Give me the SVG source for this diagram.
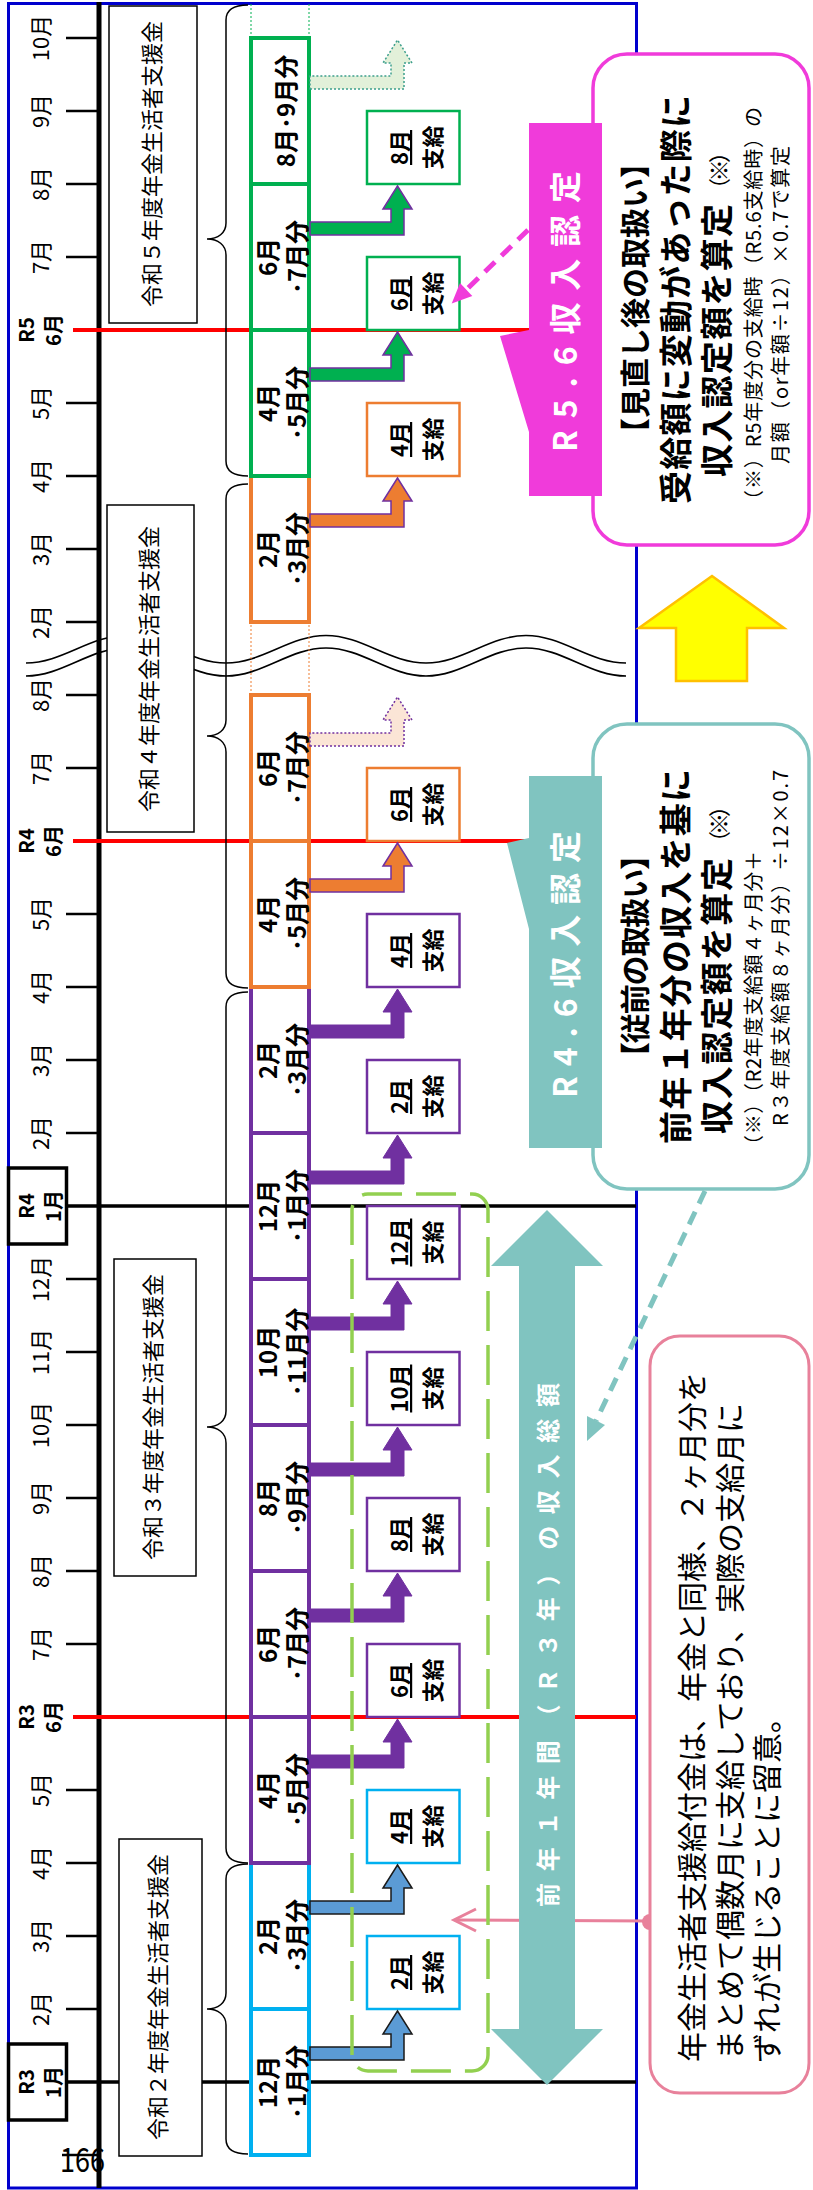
<svg xmlns="http://www.w3.org/2000/svg" width="813" height="2190" viewBox="0 0 813 2190">
<style>
text{font-family:"Noto Sans CJK JP","Noto Sans",sans-serif;fill:#000}
.ml{font-size:22px;text-anchor:middle}
.rl{font-size:20px;font-weight:700;text-anchor:middle}
.bt{font-size:24px;font-weight:700;text-anchor:middle}
.pt{font-size:22px;font-weight:700;text-anchor:middle}
.u{text-decoration:underline}
.yb{fill:#fff;stroke:#000;stroke-width:1.5}
.yt{font-size:22px;text-anchor:middle}
.br{fill:none;stroke:#000;stroke-width:1.5}
.bc{fill:#fff;stroke:#00B0F0;stroke-width:4}
.bp{fill:#fff;stroke:#7030A0;stroke-width:4}
.bo{fill:#fff;stroke:#ED7D31;stroke-width:4}
.bg{fill:#fff;stroke:#00B050;stroke-width:4}
.pc{fill:#fff;stroke:#00B0F0;stroke-width:2.5}
.pp{fill:#fff;stroke:#7030A0;stroke-width:2.5}
.po{fill:#fff;stroke:#ED7D31;stroke-width:2.5}
.pg{fill:#fff;stroke:#00B050;stroke-width:2.5}
.ab{fill:#5B9BD5;stroke:#1a1a1a;stroke-width:1.5}
.ap{fill:#7030A0;stroke:#7030A0;stroke-width:1}
.ao{fill:#ED7D31;stroke:#7030A0;stroke-width:1.5}
.ag{fill:#00B050;stroke:#7030A0;stroke-width:1.5}
.aol{fill:#FBE5D6;stroke:#7030A0;stroke-width:1.5;stroke-dasharray:2 2}
.agl{fill:#E2F0D9;stroke:#3C9E8C;stroke-width:1.5;stroke-dasharray:2 2}
.wt{fill:#fff;font-weight:700}
.bd{font-weight:700}
</style>
<defs>
<path id="elb" d="M-51,310 V404 H-25 V412 L-2,397.5 L-25,383 V391 H-38 V310 Z"/>
</defs>
<rect width="813" height="2190" fill="#fff"/>
<g id="frame"><rect x="8.5" y="3.5" width="628" height="2184.5" fill="none" stroke="#0000CD" stroke-width="3"/></g>
<g transform="translate(0,2190) rotate(-90)">
 <g id="break-mark" fill="none" stroke="#000" stroke-width="1.6">
  <path d="M1527,26 C1527,62.4 1554.5,89.6 1554.5,126 S1527,189.6 1527,226 S1554.5,289.6 1554.5,326 S1527,389.6 1527,426 S1554.5,489.6 1554.5,526 S1527,589.6 1527,626"/>
  <path d="M1514,26 C1514,62.4 1542,89.6 1542,126 S1514,189.6 1514,226 S1542,289.6 1542,326 S1514,389.6 1514,426 S1542,489.6 1542,526 S1514,589.6 1514,626"/>
 </g>
 <g id="timeline">
  <path d="M2,99 H2188" stroke="#000" stroke-width="5"/>
  <path stroke="#000" stroke-width="2.5" d="M35,62V98 M181,66V98 M254,66V98 M327,66V98 M400,66V98 M546,66V98 M619,66V98 M692,66V98 M765,66V98 M838,66V98 M911,66V98 M1057,66V98 M1130,66V98 M1203,66V98 M1276,66V98 M1422,66V98 M1495,66V98 M1568,66V98 M1641,66V98 M1714,66V98 M1787,66V98 M1933,66V98 M2006,66V98 M2079,66V98 M2152,66V98"/>
  <path stroke="#000" stroke-width="3.5" d="M108,68 V636 M984,68 V636"/>
  <path stroke="#FF0000" stroke-width="4" d="M473,73 V636 M1349,73 V600 M1860,73 V600"/>
  <text class="ml" x="181" y="49">2月</text>
  <text class="ml" x="254" y="49">3月</text>
  <text class="ml" x="327" y="49">4月</text>
  <text class="ml" x="400" y="49">5月</text>
  <text class="ml" x="546" y="49">7月</text>
  <text class="ml" x="619" y="49">8月</text>
  <text class="ml" x="692" y="49">9月</text>
  <text class="ml" x="765" y="49">10月</text>
  <text class="ml" x="838" y="49">11月</text>
  <text class="ml" x="911" y="49">12月</text>
  <text class="ml" x="1057" y="49">2月</text>
  <text class="ml" x="1130" y="49">3月</text>
  <text class="ml" x="1203" y="49">4月</text>
  <text class="ml" x="1276" y="49">5月</text>
  <text class="ml" x="1422" y="49">7月</text>
  <text class="ml" x="1495" y="49">8月</text>
  <text class="ml" x="1568" y="49">2月</text>
  <text class="ml" x="1641" y="49">3月</text>
  <text class="ml" x="1714" y="49">4月</text>
  <text class="ml" x="1787" y="49">5月</text>
  <text class="ml" x="1933" y="49">7月</text>
  <text class="ml" x="2006" y="49">8月</text>
  <text class="ml" x="2079" y="49">9月</text>
  <text class="ml" x="2152" y="49">10月</text>
  <text class="rl" x="473" y="34">R3</text><text class="rl" x="473" y="61">6月</text>
  <text class="rl" x="1349" y="34">R4</text><text class="rl" x="1349" y="61">6月</text>
  <text class="rl" x="1860" y="34">R5</text><text class="rl" x="1860" y="61">6月</text>
 </g>
 <g id="r3-jan"><rect x="70" y="8.5" width="76" height="58" fill="#fff" stroke="#000" stroke-width="3.5"/><text class="rl" x="108" y="34">R3</text><text class="rl" x="108" y="61">1月</text></g>
 <g id="r4-jan"><rect x="946" y="8.5" width="76" height="58" fill="#fff" stroke="#000" stroke-width="3.5"/><text class="rl" x="984" y="34">R4</text><text class="rl" x="984" y="61">1月</text></g>

 <g id="fy-r2"><rect class="yb" x="34" y="119" width="317" height="83"/><text class="yt" x="193" y="166">令和２年度年金生活者支援金</text>
  <path class="br" d="M36,248 C36,236 39,226 51,226 H165 C175,226 181,218 181,207 C181,218 187,226 197,226 H311 C323,226 326,236 326,248"/></g>
 <g id="fy-r3"><rect class="yb" x="614" y="114" width="317" height="82"/><text class="yt" x="773" y="161">令和３年度年金生活者支援金</text>
  <path class="br" d="M327,248 C327,236 330,226 342,226 H747 C757,226 763,218 763,207 C763,218 769,226 779,226 H1183 C1195,226 1198,236 1198,248"/></g>
 <g id="fy-r4"><rect class="yb" x="1358" y="107" width="327" height="87"/><text class="yt" x="1521" y="157">令和４年度年金生活者支援金</text>
  <path class="br" d="M1202,248 C1202,236 1205,226 1217,226 H1438 C1448,226 1454,218 1454,207 C1454,218 1460,226 1470,226 H1691 C1703,226 1706,236 1706,248"/></g>
 <g id="fy-r5"><rect class="yb" x="1867" y="109" width="317" height="88"/><text class="yt" x="2026" y="160">令和５年度年金生活者支援金</text>
  <path class="br" d="M1714,248 C1714,236 1717,226 1729,226 H1935 C1945,226 1951,218 1951,207 C1951,218 1957,226 1967,226 H2170 C2182,226 2185,236 2185,248"/></g>

 <g id="bar-r2-12"><rect class="bc" x="35" y="251" width="146" height="58"/><text class="bt" x="108" y="277">12月</text><text class="bt" x="108" y="306">･1月分</text></g>
 <g id="bar-r2-2"><rect class="bc" x="181" y="251" width="146" height="58"/><text class="bt" x="254" y="277">2月</text><text class="bt" x="254" y="306">･3月分</text></g>
 <g id="bar-r3-4"><rect class="bp" x="327" y="251" width="146" height="58"/><text class="bt" x="400" y="277">4月</text><text class="bt" x="400" y="306">･5月分</text></g>
 <g id="bar-r3-6"><rect class="bp" x="473" y="251" width="146" height="58"/><text class="bt" x="546" y="277">6月</text><text class="bt" x="546" y="306">･7月分</text></g>
 <g id="bar-r3-8"><rect class="bp" x="619" y="251" width="146" height="58"/><text class="bt" x="692" y="277">8月</text><text class="bt" x="692" y="306">･9月分</text></g>
 <g id="bar-r3-10"><rect class="bp" x="765" y="251" width="146" height="58"/><text class="bt" x="838" y="277">10月</text><text class="bt" x="838" y="306">･11月分</text></g>
 <g id="bar-r3-12"><rect class="bp" x="911" y="251" width="146" height="58"/><text class="bt" x="984" y="277">12月</text><text class="bt" x="984" y="306">･1月分</text></g>
 <g id="bar-r3-2"><rect class="bp" x="1057" y="251" width="146" height="58"/><text class="bt" x="1130" y="277">2月</text><text class="bt" x="1130" y="306">･3月分</text></g>
 <g id="bar-r4-4"><rect class="bo" x="1203" y="251" width="146" height="58"/><text class="bt" x="1276" y="277">4月</text><text class="bt" x="1276" y="306">･5月分</text></g>
 <g id="bar-r4-6"><rect class="bo" x="1349" y="251" width="146" height="58"/><text class="bt" x="1422" y="277">6月</text><text class="bt" x="1422" y="306">･7月分</text></g>
 <g id="bar-r4-gap"><path d="M1495,251 H1568 M1495,309 H1568" stroke="#ED7D31" stroke-width="1" stroke-dasharray="2 2"/></g>
 <g id="bar-r4-2"><rect class="bo" x="1568" y="251" width="146" height="58"/><text class="bt" x="1641" y="277">2月</text><text class="bt" x="1641" y="306">･3月分</text></g>
 <g id="bar-r5-4"><rect class="bg" x="1714" y="251" width="146" height="58"/><text class="bt" x="1787" y="277">4月</text><text class="bt" x="1787" y="306">･5月分</text></g>
 <g id="bar-r5-6"><rect class="bg" x="1860" y="251" width="146" height="58"/><text class="bt" x="1933" y="277">6月</text><text class="bt" x="1933" y="306">･7月分</text></g>
 <g id="bar-r5-8"><rect class="bg" x="2006" y="251" width="146" height="58"/><text class="bt" x="2079" y="295">8月･9月分</text></g>
 <g id="bar-r5-next"><path d="M2152,251 H2187 M2152,309 H2187" stroke="#00B050" stroke-width="1" stroke-dasharray="2 2"/></g>

 <g id="pay-r3-2"><rect class="pc" x="181" y="367" width="73" height="92.5"/><text class="pt u" x="217.5" y="408">2月</text><text class="pt" x="217.5" y="441">支給</text></g>
 <g id="pay-r3-4"><rect class="pc" x="327" y="367" width="73" height="92.5"/><text class="pt u" x="363.5" y="408">4月</text><text class="pt" x="363.5" y="441">支給</text></g>
 <g id="pay-r3-6"><rect class="pp" x="473" y="367" width="73" height="92.5"/><text class="pt u" x="509.5" y="408">6月</text><text class="pt" x="509.5" y="441">支給</text></g>
 <g id="pay-r3-8"><rect class="pp" x="619" y="367" width="73" height="92.5"/><text class="pt u" x="655.5" y="408">8月</text><text class="pt" x="655.5" y="441">支給</text></g>
 <g id="pay-r3-10"><rect class="pp" x="765" y="367" width="73" height="92.5"/><text class="pt u" x="801.5" y="408">10月</text><text class="pt" x="801.5" y="441">支給</text></g>
 <g id="pay-r3-12"><rect class="pp" x="911" y="367" width="73" height="92.5"/><text class="pt u" x="947.5" y="408">12月</text><text class="pt" x="947.5" y="441">支給</text></g>
 <g id="pay-r4-2"><rect class="pp" x="1057" y="367" width="73" height="92.5"/><text class="pt u" x="1093.5" y="408">2月</text><text class="pt" x="1093.5" y="441">支給</text></g>
 <g id="pay-r4-4"><rect class="pp" x="1203" y="367" width="73" height="92.5"/><text class="pt u" x="1239.5" y="408">4月</text><text class="pt" x="1239.5" y="441">支給</text></g>
 <g id="pay-r4-6"><rect class="po" x="1349" y="367" width="73" height="92.5"/><text class="pt u" x="1385.5" y="408">6月</text><text class="pt" x="1385.5" y="441">支給</text></g>
 <g id="pay-r5-4"><rect class="po" x="1714" y="367" width="73" height="92.5"/><text class="pt u" x="1750.5" y="408">4月</text><text class="pt" x="1750.5" y="441">支給</text></g>
 <g id="pay-r5-6"><rect class="pg" x="1860" y="367" width="73" height="92.5"/><text class="pt u" x="1896.5" y="408">6月</text><text class="pt" x="1896.5" y="441">支給</text></g>
 <g id="pay-r5-8"><rect class="pg" x="2006" y="367" width="73" height="92.5"/><text class="pt u" x="2042.5" y="408">8月</text><text class="pt" x="2042.5" y="441">支給</text></g>

 <g id="connectors">
  <use href="#elb" x="181" class="ab"/>
  <use href="#elb" x="327" class="ab"/>
  <use href="#elb" x="473" class="ap"/>
  <use href="#elb" x="619" class="ap"/>
  <use href="#elb" x="765" class="ap"/>
  <use href="#elb" x="911" class="ap"/>
  <use href="#elb" x="1057" class="ap"/>
  <use href="#elb" x="1203" class="ap"/>
  <use href="#elb" x="1349" class="ao"/>
  <use href="#elb" x="1495" class="aol"/>
  <use href="#elb" x="1714" class="ao"/>
  <use href="#elb" x="1860" class="ag"/>
  <use href="#elb" x="2006" class="ag"/>
  <use href="#elb" x="2152" class="agl"/>
  <line x1="269" y1="650" x2="270" y2="456" stroke="#E8819B" stroke-width="3"/>
  <polyline points="259,476 270,454 281,476" fill="none" stroke="#E8819B" stroke-width="3"/>
  <circle cx="268" cy="650" r="8" fill="#E8819B"/>
  <line x1="999" y1="705" x2="769" y2="596" stroke="#80C4C0" stroke-width="5" stroke-dasharray="14 9"/>
  <polygon points="749,587 774,587 765,605" fill="#80C4C0"/>
  <line x1="1960" y1="528" x2="1900" y2="466" stroke="#F03BDA" stroke-width="5" stroke-dasharray="14 9"/>
  <polygon points="1886.5,451.7 1907,460 1894,472.3" fill="#F03BDA"/>
 </g>

 <g id="prev-year-range"><rect x="119" y="352" width="877" height="136" rx="16" fill="none" stroke="#92D050" stroke-width="3.5" stroke-dasharray="40 14"/></g>

 <g id="total-income-arrow">
  <polygon points="105,547 161,491 161,519 924,519 924,491 980,547 924,603 924,575 161,575 161,603" fill="#80C4C0"/>
  <text class="wt" x="283" y="557" font-size="24" textLength="524">前年１年間（Ｒ３年）の収入総額</text>
 </g>

 <g id="box-old">
  <rect x="1001" y="593" width="465" height="216" rx="34" fill="#fff" stroke="#80C4C0" stroke-width="3.5"/>
  <text class="bd" x="1118" y="646" font-size="30" textLength="232">【従前の取扱い】</text>
  <text class="bd" x="1046" y="688" font-size="33" textLength="375">前年１年分の収入を基に</text>
  <text class="bd" x="1056" y="729" font-size="33" textLength="276">収入認定額を算定</text>
  <text x="1337" y="727" font-size="22" textLength="58">（※）</text>
  <text x="1035" y="761" font-size="20" textLength="304">（※）（R2年度支給額４ヶ月分＋</text>
  <text x="1064" y="788" font-size="20" textLength="356">R３年度支給額８ヶ月分）÷12×0.7</text>
 </g>
 <g id="callout-r4">
  <path d="M1042,529 H1261 L1347,507 L1352,529 H1414 V602 H1042 Z" fill="#80C4C0"/>
  <text class="wt" x="1092" y="577" font-size="32" textLength="267">R4.6収入認定</text>
 </g>
 <g id="box-new">
  <rect x="1645" y="593" width="491" height="216" rx="34" fill="#fff" stroke="#F03BDA" stroke-width="3.5"/>
  <text class="bd" x="1742" y="646" font-size="30" textLength="300">【見直し後の取扱い】</text>
  <text class="bd" x="1686" y="688" font-size="33" textLength="409">受給額に変動があった際に</text>
  <text class="bd" x="1713" y="729" font-size="33" textLength="273">収入認定額を算定</text>
  <text x="1990" y="727" font-size="22" textLength="59">（※）</text>
  <text x="1680" y="761" font-size="20" textLength="403">（※）R5年度分の支給時（R5.6支給時）の</text>
  <text x="1726" y="788" font-size="20" textLength="318">月額（or年額÷12）×0.7で算定</text>
 </g>
 <g id="callout-r5">
  <path d="M1694,529 H1758 L1854,500 L1860,529 H2067 V602 H1694 Z" fill="#F03BDA"/>
  <text class="wt" x="1738" y="577" font-size="32" textLength="281">R5.6収入認定</text>
 </g>
 <g id="yellow-arrow">
  <polygon points="1509,676 1562,676 1562,639 1614,712 1562,784 1562,747 1509,747" fill="#FFFF00" stroke="#FFC000" stroke-width="2.5"/>
 </g>
 <g id="note">
  <rect x="97" y="650" width="757" height="159" rx="30" fill="#fff" stroke="#E8819B" stroke-width="3"/>
  <text x="128" y="703" font-size="30">年金生活者支援給付金は、年金と同様、２ヶ月分を</text>
  <text x="130" y="741" font-size="30">まとめて偶数月に支給しており、実際の支給月に</text>
  <text x="127" y="778" font-size="30">ずれが生じることに留意。</text>
 </g>
</g>
<text x="60" y="2172" font-family="Liberation Sans, sans-serif" font-size="34" textLength="45" lengthAdjust="spacingAndGlyphs">166</text>
</svg>
